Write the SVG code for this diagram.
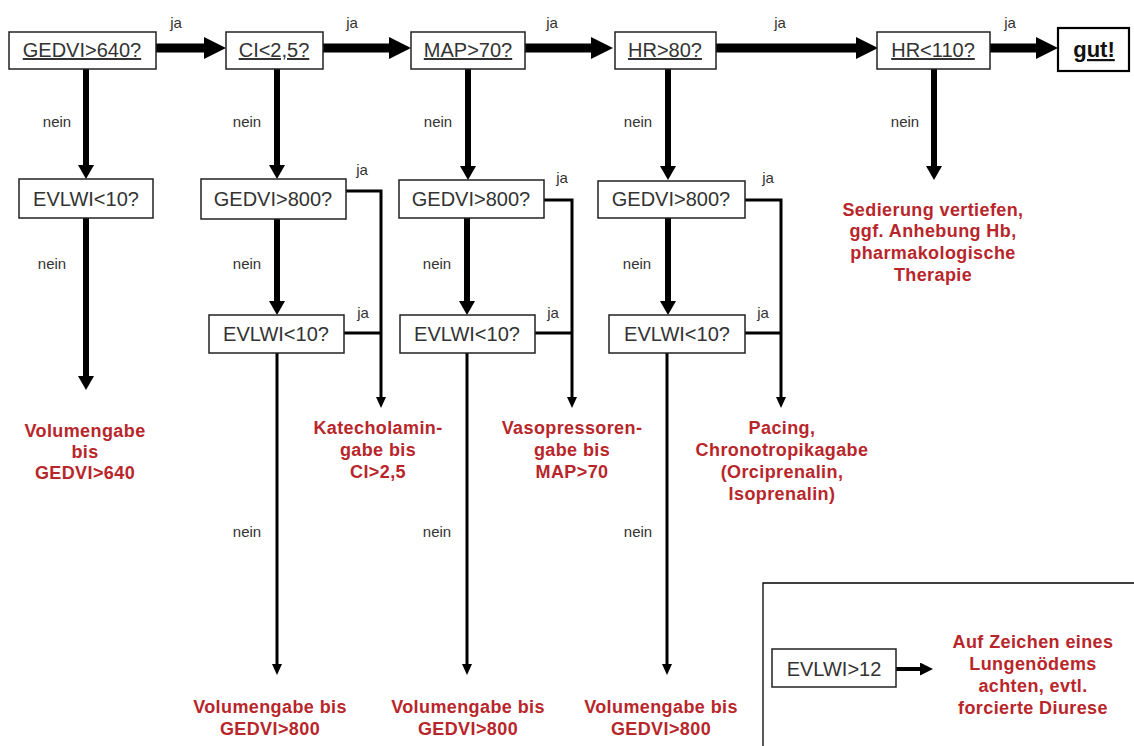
<svg xmlns="http://www.w3.org/2000/svg" width="1134" height="746" viewBox="0 0 1134 746">
<style>
.box{fill:#fff;stroke:#222;stroke-width:1.5}
.bt{font-family:"Liberation Sans",Arial,sans-serif;font-size:20px;fill:#333;text-anchor:middle}
.u{text-decoration:underline}
.lbl{font-family:"Liberation Sans",Arial,sans-serif;font-size:15px;fill:#333;text-anchor:middle}
.red{font-family:"Liberation Sans",Arial,sans-serif;font-size:18px;font-weight:bold;fill:#b8262b;text-anchor:middle;letter-spacing:0.4px}
.h{fill:none;stroke:#000;stroke-width:9}
.v{fill:none;stroke:#000;stroke-width:6}
.t{fill:none;stroke:#000;stroke-width:3}
</style>
<defs>
<marker id="mH" markerUnits="userSpaceOnUse" viewBox="0 0 22 22" markerWidth="22" markerHeight="22" refX="0" refY="11" orient="auto"><path d="M0,0 L22,11 L0,22 z" fill="#000"/></marker>
<marker id="mV" markerUnits="userSpaceOnUse" viewBox="0 0 14 16" markerWidth="14" markerHeight="16" refX="0" refY="8" orient="auto"><path d="M0,0 L14,8 L0,16 z" fill="#000"/></marker>
<marker id="mT" markerUnits="userSpaceOnUse" viewBox="0 0 11 10" markerWidth="11" markerHeight="10" refX="0" refY="5" orient="auto"><path d="M0,0 L11,5 L0,10 z" fill="#000"/></marker>
<marker id="mL" markerUnits="userSpaceOnUse" viewBox="0 0 13 13" markerWidth="13" markerHeight="13" refX="0" refY="6.5" orient="auto"><path d="M0,0 L13,6.5 L0,13 z" fill="#000"/></marker>
</defs>
<rect width="1134" height="746" fill="#fff"/>

<g id="connectors">
<path class="h" d="M156,48 H204" marker-end="url(#mH)"/>
<path class="h" d="M323,48 H389" marker-end="url(#mH)"/>
<path class="h" d="M525,48 H591" marker-end="url(#mH)"/>
<path class="h" d="M716,48 H856" marker-end="url(#mH)"/>
<path class="h" d="M990,48 H1036" marker-end="url(#mH)"/>
<path class="v" d="M86,69 V165" marker-end="url(#mV)"/>
<path class="v" d="M277,69 V165" marker-end="url(#mV)"/>
<path class="v" d="M468,69 V166" marker-end="url(#mV)"/>
<path class="v" d="M668,69 V166" marker-end="url(#mV)"/>
<path class="v" d="M934,69 V166" marker-end="url(#mV)"/>
<path class="v" d="M86,218 V376" marker-end="url(#mV)"/>
<path class="v" d="M277,219 V301" marker-end="url(#mV)"/>
<path class="v" d="M467,218 V301" marker-end="url(#mV)"/>
<path class="v" d="M668,218 V301" marker-end="url(#mV)"/>
<path class="t" d="M277,353 V664" marker-end="url(#mT)"/>
<path class="t" d="M467,353 V664" marker-end="url(#mT)"/>
<path class="t" d="M667,353 V664" marker-end="url(#mT)"/>
<path class="t" d="M346,191 H381 V397" marker-end="url(#mT)"/>
<path class="t" d="M344,333 H381"/>
<path class="t" d="M544,200 H572 V397" marker-end="url(#mT)"/>
<path class="t" d="M535,333 H572"/>
<path class="t" d="M745,200 H781 V397" marker-end="url(#mT)"/>
<path class="t" d="M745,333 H781"/>
<path d="M896,669 H920" stroke="#000" stroke-width="4" fill="none" marker-end="url(#mL)"/>
<g class="lbl">
<text x="176" y="28">ja</text>
<text x="352" y="28">ja</text>
<text x="552" y="28">ja</text>
<text x="780" y="28">ja</text>
<text x="1010" y="28">ja</text>
<text x="57" y="127">nein</text>
<text x="247" y="127">nein</text>
<text x="438" y="127">nein</text>
<text x="638" y="127">nein</text>
<text x="905" y="127">nein</text>
<text x="52" y="269">nein</text>
<text x="247" y="269">nein</text>
<text x="437" y="269">nein</text>
<text x="637" y="269">nein</text>
<text x="247" y="537">nein</text>
<text x="437" y="537">nein</text>
<text x="638" y="537">nein</text>
<text x="362" y="175">ja</text>
<text x="363" y="318">ja</text>
<text x="562" y="183">ja</text>
<text x="553" y="318">ja</text>
<text x="768" y="183">ja</text>
<text x="763" y="318">ja</text>
</g>
</g>

<g id="n-gedvi640"><rect class="box" x="9" y="32" width="147" height="37"/><text class="bt u" x="82" y="57">GEDVI&gt;640?</text></g>
<g id="n-ci"><rect class="box" x="226" y="32" width="97" height="37"/><text class="bt u" x="274" y="57">CI&lt;2,5?</text></g>
<g id="n-map"><rect class="box" x="411" y="32" width="114" height="37"/><text class="bt u" x="468" y="57">MAP&gt;70?</text></g>
<g id="n-hr80"><rect class="box" x="615" y="32" width="101" height="37"/><text class="bt u" x="665" y="57">HR&gt;80?</text></g>
<g id="n-hr110"><rect class="box" x="877" y="32" width="113" height="37"/><text class="bt u" x="933" y="57">HR&lt;110?</text></g>
<g id="n-gut"><rect x="1058" y="28" width="71" height="43" fill="#fff" stroke="#000" stroke-width="2.2"/><text x="1094" y="57" font-family="Liberation Sans, Arial, sans-serif" font-size="22" font-weight="bold" fill="#111" text-anchor="middle" text-decoration="underline">gut!</text></g>

<g id="n-evlwi1"><rect class="box" x="19" y="179" width="134" height="39"/><text class="bt" x="86" y="206">EVLWI&lt;10?</text></g>
<g id="n-gedvi800a"><rect class="box" x="201" y="179" width="145" height="40"/><text class="bt" x="273" y="206">GEDVI&gt;800?</text></g>
<g id="n-gedvi800b"><rect class="box" x="399" y="180" width="145" height="38"/><text class="bt" x="471" y="206">GEDVI&gt;800?</text></g>
<g id="n-gedvi800c"><rect class="box" x="598" y="181" width="147" height="37"/><text class="bt" x="671" y="206">GEDVI&gt;800?</text></g>
<g id="n-evlwi2"><rect class="box" x="209" y="315" width="135" height="38"/><text class="bt" x="276" y="341">EVLWI&lt;10?</text></g>
<g id="n-evlwi3"><rect class="box" x="400" y="315" width="135" height="38"/><text class="bt" x="467" y="341">EVLWI&lt;10?</text></g>
<g id="n-evlwi4"><rect class="box" x="609" y="315" width="136" height="38"/><text class="bt" x="677" y="341">EVLWI&lt;10?</text></g>

<g id="a-vol640"><text class="red" x="85" y="437">Volumengabe</text><text class="red" x="85" y="458">bis</text><text class="red" x="85" y="479">GEDVI&gt;640</text></g>
<g id="a-kat"><text class="red" x="378" y="434">Katecholamin-</text><text class="red" x="378" y="456">gabe bis</text><text class="red" x="378" y="478">CI&gt;2,5</text></g>
<g id="a-vaso"><text class="red" x="572" y="434">Vasopressoren-</text><text class="red" x="572" y="456">gabe bis</text><text class="red" x="572" y="478">MAP&gt;70</text></g>
<g id="a-pacing"><text class="red" x="782" y="434">Pacing,</text><text class="red" x="782" y="456">Chronotropikagabe</text><text class="red" x="782" y="478">(Orciprenalin,</text><text class="red" x="782" y="500">Isoprenalin)</text></g>
<g id="a-sed"><text class="red" x="933" y="216">Sedierung vertiefen,</text><text class="red" x="933" y="237">ggf. Anhebung Hb,</text><text class="red" x="933" y="259">pharmakologische</text><text class="red" x="933" y="281">Therapie</text></g>
<g id="a-vol800a"><text class="red" x="270" y="713">Volumengabe bis</text><text class="red" x="270" y="735">GEDVI&gt;800</text></g>
<g id="a-vol800b"><text class="red" x="468" y="713">Volumengabe bis</text><text class="red" x="468" y="735">GEDVI&gt;800</text></g>
<g id="a-vol800c"><text class="red" x="661" y="713">Volumengabe bis</text><text class="red" x="661" y="735">GEDVI&gt;800</text></g>

<g id="legend">
<path d="M763,746 V583 H1134" fill="none" stroke="#000" stroke-width="1.3"/>
<rect class="box" x="772" y="649" width="124" height="38"/><text class="bt" x="834" y="676">EVLWI&gt;12</text>
<text class="red" x="1033" y="648">Auf Zeichen eines</text><text class="red" x="1033" y="670">Lungenödems</text><text class="red" x="1033" y="692">achten, evtl.</text><text class="red" x="1033" y="714">forcierte Diurese</text>
</g>
</svg>
